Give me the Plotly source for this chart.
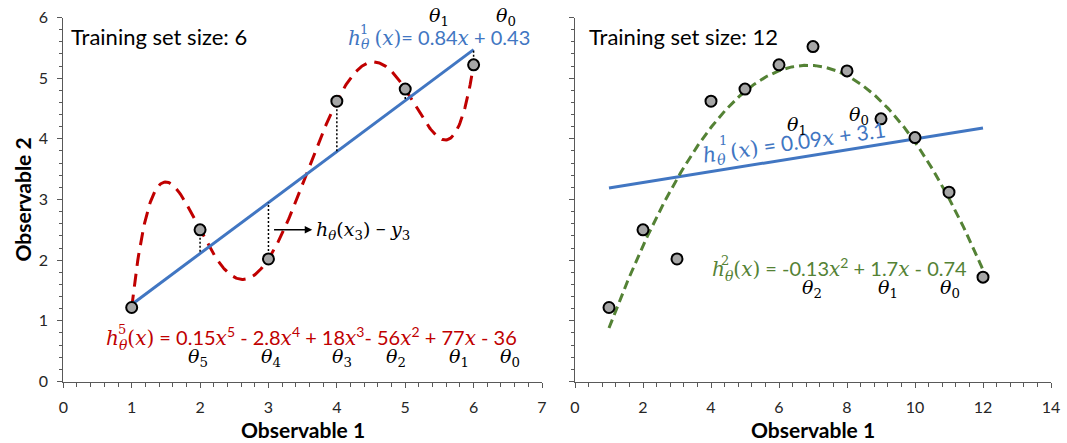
import numpy as np
import plotly.graph_objects as go

# ---- data ----
obs1_small = [1, 2, 3, 4, 5, 6]
obs2_small = [1.22, 2.50, 2.02, 4.62, 4.82, 5.22]

obs1_large = [1, 2, 3, 4, 5, 6, 7, 8, 9, 10, 11, 12]
obs2_large = [1.22, 2.50, 2.02, 4.62, 4.82, 5.22, 5.52, 5.12, 4.33, 4.02, 3.12, 1.72]

# linear hypotheses as printed on the chart: (theta1, theta0)
lin_small = (0.84, 0.43)
lin_large = (0.09, 3.1)

x_ticks_left = [0, 1, 2, 3, 4, 5, 6, 7]
x_ticks_right = [0, 2, 4, 6, 8, 10, 12, 14]
y_ticks = [0, 1, 2, 3, 4, 5, 6]

BLUE = "#4176C2"
RED = "#C00000"
GREEN = "#548235"
AXIS = "#595959"
TXT = "Lato"
MATH = "font-family:DejaVu Serif;font-style:italic"


def m(s):
    return f'<span style="{MATH}">{s}</span>'


def up(s):
    return f'<span style="font-family:DejaVu Serif">{s}</span>'


def theta(k):
    return m("θ") + "<sub>" + up(str(k)) + "</sub>"


W, H = 1067, 443
left_dom = [63.3 / W, 542.0 / W]
right_dom = [575.0 / W, 1051.0 / W]
y_dom = [(H - 381.5) / H, (H - 17.5) / H]

fig = go.Figure()

# ---- left panel: 6 training points ----
xs = np.array(obs1_small, dtype=float)
ys = np.array(obs2_small, dtype=float)
poly5 = np.polyfit(xs, ys, 5)
xf = np.linspace(xs.min(), xs.max(), 400)
fig.add_trace(go.Scatter(x=xf, y=np.polyval(poly5, xf), mode="lines",
                         line=dict(color=RED, width=3, dash="13px,8px"),
                         xaxis="x", yaxis="y", hoverinfo="skip"))
lx = np.array([xs.min(), xs.max()])
fig.add_trace(go.Scatter(x=lx, y=lin_small[0] * lx + lin_small[1], mode="lines",
                         line=dict(color=BLUE, width=3), xaxis="x", yaxis="y"))
rx, ry = [], []
for xi, yi in zip(xs, ys):
    rx += [xi, xi, None]
    ry += [yi, lin_small[0] * xi + lin_small[1], None]
fig.add_trace(go.Scatter(x=rx, y=ry, mode="lines",
                         line=dict(color="black", width=1.5, dash="2px,2px"),
                         xaxis="x", yaxis="y"))
fig.add_trace(go.Scatter(x=xs, y=ys, mode="markers",
                         marker=dict(size=11, color="#A6A6A6",
                                     line=dict(color="black", width=2)),
                         xaxis="x", yaxis="y"))

# ---- right panel: 12 training points ----
xl = np.array(obs1_large, dtype=float)
yl = np.array(obs2_large, dtype=float)
lx2 = np.array([xl.min(), xl.max()])
fig.add_trace(go.Scatter(x=lx2, y=lin_large[0] * lx2 + lin_large[1], mode="lines",
                         line=dict(color=BLUE, width=3), xaxis="x2", yaxis="y2"))
poly2 = np.polyfit(xl, yl, 2)
xf2 = np.linspace(xl.min(), xl.max(), 400)
fig.add_trace(go.Scatter(x=xf2, y=np.polyval(poly2, xf2), mode="lines",
                         line=dict(color=GREEN, width=3, dash="9px,5px"),
                         xaxis="x2", yaxis="y2"))
fig.add_trace(go.Scatter(x=xl, y=yl, mode="markers",
                         marker=dict(size=11, color="#A6A6A6",
                                     line=dict(color="black", width=2)),
                         xaxis="x2", yaxis="y2"))

# ---- axes ----
common = dict(showgrid=False, zeroline=False, showline=True, linecolor=AXIS,
              linewidth=1, ticks="outside", tickcolor=AXIS, ticklen=5,
              tickfont=dict(family=TXT, size=16, color="#262626"),
              ticklabelstandoff=6, automargin=False)
fig.update_layout(
    xaxis=dict(domain=left_dom, range=[0, 7], tickvals=x_ticks_left,
               minor=dict(dtick=0.2, ticks="outside", ticklen=4, tickcolor=AXIS),
               anchor="y", **common),
    yaxis=dict(domain=y_dom, range=[0, 6], tickvals=y_ticks,
               minor=dict(dtick=0.2, ticks="outside", ticklen=3, tickcolor=AXIS),
               anchor="x", **common),
    xaxis2=dict(domain=right_dom, range=[0, 14], tickvals=x_ticks_right,
                minor=dict(dtick=0.4, ticks="outside", ticklen=4, tickcolor=AXIS),
                anchor="y2", **common),
    yaxis2=dict(domain=y_dom, range=[0, 6], tickvals=y_ticks, showticklabels=False,
                minor=dict(dtick=0.2, ticks="outside", ticklen=3, tickcolor=AXIS),
                anchor="x2", **common),
)

ann = []


def text(x, y, s, size=20, color="black", ref="", xanchor="left", angle=0,
         family=TXT, yshift=0):
    ann.append(dict(x=x, y=y, xref="x" + ref, yref="y" + ref, text=s, showarrow=False,
                    xanchor=xanchor, yanchor="middle", textangle=angle, yshift=yshift,
                    font=dict(family=family, size=size, color=color)))


# left panel labels
text(0.09, 5.68, "Training set size: 6", size=22)
text(4.13, 5.66, m("h") + "<sub>" + m("θ") + "</sub> " + up("(") + m("x") + up(")")
     + "= 0.84" + m("x") + " + 0.43", color=BLUE)
text(4.39, 5.80, "1", size=13, color=BLUE, xanchor="center", family="DejaVu Serif")
text(5.49, 6.0, theta(1), size=19, xanchor="center", yshift=1)
text(6.48, 6.0, theta(0), size=19, xanchor="center", yshift=1)

text(0.60, 0.716, m("h") + "<sub>" + m("θ") + "</sub>" + up("(") + m("x") + up(")")
     + " = 0.15" + m("x") + "<sup>5</sup> - 2.8" + m("x") + "<sup>4</sup> + 18"
     + m("x") + "<sup>3</sup>- 56" + m("x") + "<sup>2</sup> + 77" + m("x") + " - 36",
     color=RED)
text(0.86, 0.85, "5", size=13, color=RED, xanchor="center", family="DejaVu Serif")
for k, px in zip([5, 4, 3, 2, 1, 0], [1.97, 3.04, 4.08, 4.86, 5.78, 6.53]):
    text(px, 0.40, theta(k), size=19, xanchor="center")

ann.append(dict(x=3.64, y=2.5, ax=3.06, ay=2.5, xref="x", yref="y", axref="x", ayref="y",
                text="", showarrow=True, arrowhead=2, arrowsize=1, arrowwidth=1.5,
                arrowcolor="black"))
text(3.66, 2.5, m("h") + "<sub>" + m("θ") + "</sub>" + up("(") + m("x") + "<sub>"
     + up("3") + "</sub>" + up(")") + " − " + m("y") + "<sub>" + up("3") + "</sub>",
     size=19)

# right panel labels
text(0.35, 5.68, "Training set size: 12", size=22, ref="2")
text(6.45, 3.93, m("h") + "<sub>" + m("θ") + "</sub> " + up("(") + m("x") + up(")")
     + " = 0.09" + m("x") + " + 3.1", color=BLUE, ref="2", xanchor="center",
     angle=-8, size=21)
text(4.36, 3.98, "1", size=13, color=BLUE, ref="2", xanchor="center",
     family="DejaVu Serif")
text(6.53, 4.22, theta(1), size=19, ref="2", xanchor="center")
text(8.36, 4.38, theta(0), size=19, ref="2", xanchor="center")

text(3.96, 1.85, m("h") + "<sub>" + m("θ") + "</sub>" + up("(") + m("x") + up(")")
     + " = -0.13" + m("x") + "<sup>2</sup> + 1.7" + m("x") + " - 0.74",
     color=GREEN, ref="2", size=20)
text(4.42, 1.99, "2", size=13, color=GREEN, ref="2", xanchor="center",
     family="DejaVu Serif")
for k, px in zip([2, 1, 0], [6.97, 9.2, 11.03]):
    text(px, 1.54, theta(k), size=19, ref="2", xanchor="center")

# axis titles
for cx in [302.7 / W, 813.0 / W]:
    ann.append(dict(x=cx, y=(H - 429) / H, xref="paper", yref="paper",
                    text="<b>Observable 1</b>", showarrow=False,
                    xanchor="center", yanchor="middle",
                    font=dict(family=TXT, size=21, color="black")))
ann.append(dict(x=22 / W, y=(H - 199.5) / H, xref="paper", yref="paper",
                text="<b>Observable 2</b>", showarrow=False, textangle=-90,
                xanchor="center", yanchor="middle",
                font=dict(family=TXT, size=21, color="black")))

fig.update_layout(
    annotations=ann,
    width=W, height=H,
    margin=dict(l=0, r=0, t=0, b=0),
    paper_bgcolor="white", plot_bgcolor="white",
    showlegend=False,
)

fig.write_html("out.html", config={"displayModeBar": False})
